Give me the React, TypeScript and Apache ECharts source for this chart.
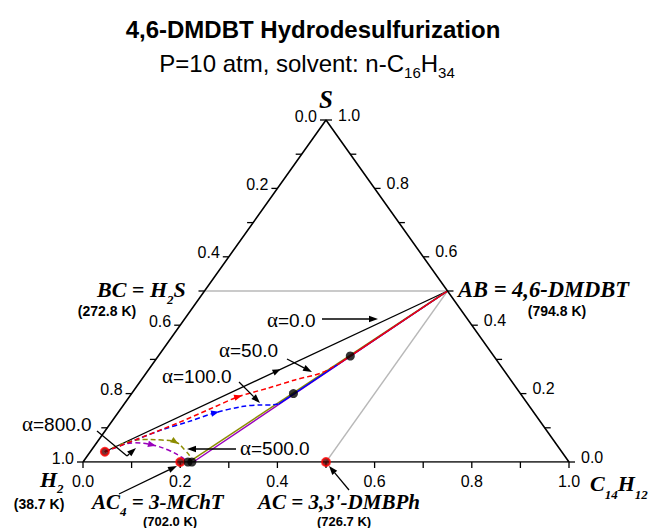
import { useEffect, useRef } from 'react';
import * as echarts from 'echarts';

// Ternary compositions as [x(C14H12), x(S)];  x(H2) = 1 - x(C14H12) - x(S)
const triangle = [[0, 0], [0, 1], [1, 0], [0, 0]];
const tieLineBC_AB = [[0, 0.5], [0.5, 0.5]];
const tieLineAB_AC = [[0.5, 0.5], [0.5, 0]];

const alpha0 = [[0.03, 0.03], [0.5, 0.5]];
const alpha50Dashed = [[0.03, 0.03], [0.09, 0.076], [0.139, 0.115], [0.186, 0.157], [0.224, 0.191], [0.273, 0.216], [0.316, 0.24], [0.361, 0.261], [0.384, 0.29]];
const alpha50Solid = [[0.384, 0.29], [0.5, 0.5]];
const alpha100Dashed = [[0.03, 0.03], [0.075, 0.064], [0.115, 0.094], [0.158, 0.118], [0.2, 0.144], [0.246, 0.162], [0.284, 0.167], [0.305, 0.167], [0.318, 0.17]];
const alpha100Solid = [[0.318, 0.17], [0.5, 0.5]];
const alpha500Dashed = [[0.03, 0.03], [0.044, 0.044], [0.064, 0.059], [0.094, 0.066], [0.13, 0.064], [0.16, 0.059], [0.192, 0.035], [0.214, 0.012], [0.219, 0.002]];
const alpha500Solid = [[0.219, 0.002], [0.5, 0.5]];
const alpha800Dashed = [[0.03, 0.03], [0.055, 0.05], [0.079, 0.056], [0.117, 0.05], [0.158, 0.035], [0.196, 0.014], [0.212, 0.002]];
const alpha800Solid = [[0.227, 0], [0.5, 0.5]];

const blackDots = [[0.216, 0], [0.224, 0], [0.333, 0.2], [0.395, 0.31]];
const redDots = [[0.03, 0.03], [0.2, 0], [0.5, 0]];

const arrowAt = [[0.266, 0.266], [0.224, 0.191], [0.2, 0.144], [0.16, 0.059], [0.117, 0.05]];
const arrowToward = [[0.3, 0.3], [0.273, 0.216], [0.246, 0.162], [0.176, 0.049], [0.138, 0.044]];
const arrowColors = ['#000000', '#ff0000', '#0000ff', '#8c8c00', '#9900bb'];

const axisTicks = [0, 0.1, 0.2, 0.3, 0.4, 0.5, 0.6, 0.7, 0.8, 0.9, 1];
const tickLabels = ['0.0', '0.2', '0.4', '0.6', '0.8', '1.0'];

const SANS = '"Liberation Sans", Arial, sans-serif';
const SERIF = '"Liberation Serif", "Times New Roman", serif';

const tern = (p: number[]) => [p[0] + p[1] / 2, p[1]];

function lineSeries(data: number[][], color: string, width: number, dashed: boolean, smooth: number | boolean = false, z = 2) {
  return {
    type: 'line',
    data: data.map(tern),
    showSymbol: false,
    symbol: 'none',
    smooth,
    silent: true,
    z,
    lineStyle: { color, width, type: dashed ? [5, 3] : 'solid' },
  };
}

function tickSeries(edge: 'bottom' | 'left' | 'right') {
  return {
    type: 'custom',
    coordinateSystem: 'cartesian2d',
    clip: false,
    silent: true,
    z: 5,
    data: axisTicks.map((v) => [v, 0]),
    renderItem: (params: any, api: any) => {
      const v = api.value(0);
      const comp = edge === 'bottom' ? [v, 0] : edge === 'left' ? [0, 1 - v] : [1 - v, v];
      const p = api.coord(tern(comp));
      const d = edge === 'bottom' ? [0, 6] : edge === 'left' ? [-6, 0] : [6, 0];
      const children: any[] = [
        { type: 'line', shape: { x1: p[0], y1: p[1], x2: p[0] + d[0], y2: p[1] + d[1] }, style: { stroke: '#000', lineWidth: 1.3 } },
      ];
      if (params.dataIndex % 2 === 0) {
        const text = tickLabels[params.dataIndex / 2];
        const pos = edge === 'bottom' ? [p[0], p[1] + 19] : edge === 'left' ? [p[0] - 9, p[1] - 4] : [p[0] + 12, p[1] - 5];
        const align = edge === 'bottom' ? 'center' : edge === 'left' ? 'right' : 'left';
        children.push({
          type: 'text',
          x: pos[0],
          y: pos[1],
          style: { text, fill: '#000', font: `16px ${SANS}`, align, textAlign: align, verticalAlign: 'middle', textVerticalAlign: 'middle' },
        });
      }
      return { type: 'group', children };
    },
  };
}

function arrowSeries() {
  return {
    type: 'custom',
    coordinateSystem: 'cartesian2d',
    clip: false,
    silent: true,
    z: 6,
    data: arrowAt.map((a, i) => [...tern(a), ...tern(arrowToward[i])]),
    renderItem: (params: any, api: any) => {
      const p = api.coord([api.value(0), api.value(1)]);
      const q = api.coord([api.value(2), api.value(3)]);
      const a = Math.atan2(q[1] - p[1], q[0] - p[0]);
      const L = 8, W = 3.2;
      const tip = [p[0] + (L / 2) * Math.cos(a), p[1] + (L / 2) * Math.sin(a)];
      const bx = p[0] - (L / 2) * Math.cos(a), by = p[1] - (L / 2) * Math.sin(a);
      const nx = -Math.sin(a) * W, ny = Math.cos(a) * W;
      return {
        type: 'polygon',
        shape: { points: [tip, [bx + nx, by + ny], [bx - nx, by - ny]] },
        style: { fill: arrowColors[params.dataIndex] },
      };
    },
  };
}

function leader(points: number[][], head = true, color = '#000') {
  const n = points.length;
  const [x1, y1] = points[n - 2];
  const [x2, y2] = points[n - 1];
  const a = Math.atan2(y2 - y1, x2 - x1);
  const L = 9, W = 3.2;
  const bx = x2 - L * Math.cos(a), by = y2 - L * Math.sin(a);
  const nx = -Math.sin(a) * W, ny = Math.cos(a) * W;
  const els: any[] = [
    { type: 'polyline', silent: true, z: 10, shape: { points: head ? [...points.slice(0, n - 1), [bx, by]] : points }, style: { stroke: color, lineWidth: 1.3, fill: null } },
  ];
  if (head) {
    els.push({ type: 'polygon', silent: true, z: 10, shape: { points: [[x2, y2], [bx + nx, by + ny], [bx - nx, by - ny]] }, style: { fill: color } });
  }
  return els;
}

function txt(x: number, y: number, text: string, rich: any, align = 'left', font?: string) {
  return {
    type: 'text',
    x,
    y,
    silent: true,
    z: 10,
    style: {
      text,
      rich,
      font,
      fill: '#000',
      align,
      textAlign: align,
      verticalAlign: 'middle',
      textVerticalAlign: 'middle',
    },
  };
}

let measureCtx: CanvasRenderingContext2D | null = null;
function measure(text: string, font: string) {
  if (!measureCtx) measureCtx = document.createElement('canvas').getContext('2d');
  measureCtx!.font = font;
  return measureCtx!.measureText(text).width;
}

// text made of normal and subscript pieces, each its own text element
function chem(x: number, y: number, parts: [string, boolean][], mainFont: string, subFont: string, drop: number, align: 'left' | 'center' = 'left') {
  const widths = parts.map(([t, sub]) => measure(t, sub ? subFont : mainFont));
  const total = widths.reduce((a, b) => a + b, 0);
  let cx = align === 'center' ? x - total / 2 : x;
  return parts.map(([t, sub], i) => {
    const el = txt(cx, sub ? y + drop : y, t, undefined, 'left', sub ? subFont : mainFont);
    cx += widths[i];
    return el;
  });
}

const alphaRich = {
  a: { fontFamily: SERIF, fontSize: 21, lineHeight: 24 },
  t: { fontFamily: SANS, fontSize: 19, lineHeight: 24 },
};
const LBL = `italic bold 22px ${SERIF}`;
const LBL_SUB = `italic bold 13px ${SERIF}`;
const LBL_LOW = `italic bold 21px ${SERIF}`;
const KFONT = `bold 14px ${SANS}`;
const KFONT_LOW = `bold 13px ${SANS}`;

export default function App() {
  const ref = useRef<HTMLDivElement>(null);
  useEffect(() => {
    if (!ref.current) return;
    const chart = echarts.init(ref.current, null, { renderer: 'svg' });
    const graphic: any[] = [
      txt(313, 29, '4,6-DMDBT Hydrodesulfurization', undefined, 'center', `bold 24px ${SANS}`),
      ...chem(307, 63, [['P=10 atm, solvent: n-C', false], ['16', true], ['H', false], ['34', true]], `24px ${SANS}`, `15px ${SANS}`, 9, 'center'),
      txt(326, 99, 'S', undefined, 'center', `italic bold 25px ${SERIF}`),
      ...chem(40, 479, [['H', false], ['2', true]], LBL, LBL_SUB, 9),
      txt(39, 504, '(38.7 K)', undefined, 'center', KFONT),
      ...chem(590, 483, [['C', false], ['14', true], ['H', false], ['12', true]], LBL, LBL_SUB, 11),
      ...chem(97, 289, [['BC = H', false], ['2', true], ['S', false]], LBL, LBL_SUB, 10),
      txt(107, 311, '(272.8 K)', undefined, 'center', KFONT),
      txt(458, 289, 'AB = 4,6-DMDBT', undefined, 'left', `italic bold 22.5px ${SERIF}`),
      txt(557, 311, '(794.8 K)', undefined, 'center', KFONT),
      ...chem(92, 502, [['AC', false], ['4', true], [' = 3-MChT', false]], LBL_LOW, LBL_SUB, 9),
      txt(170, 521, '(702.0 K)', undefined, 'center', KFONT_LOW),
      txt(258, 502, "AC = 3,3'-DMBPh", undefined, 'left', LBL_LOW),
      txt(344, 521, '(726.7 K)', undefined, 'center', KFONT_LOW),
      txt(267, 320, '{a|α}{t|=0.0}', alphaRich, 'left'),
      txt(219, 350, '{a|α}{t|=50.0}', alphaRich, 'left'),
      txt(162, 376, '{a|α}{t|=100.0}', alphaRich, 'left'),
      txt(22, 424, '{a|α}{t|=800.0}', alphaRich, 'left'),
      txt(240, 448, '{a|α}{t|=500.0}', alphaRich, 'left'),
      ...leader([[322, 319], [378, 319]]),
      ...leader([[287, 359], [312, 372]]),
      ...leader([[239, 382], [260, 403]]),
      ...leader([[97, 431], [127, 456]], false),
      ...leader([[127, 456], [136, 448]]),
      ...leader([[236, 449], [187, 449]]),
      ...leader([[119, 494], [177, 466]]),
      ...leader([[349, 490], [329, 466]]),
    ];
    chart.setOption({
      animation: false,
      backgroundColor: '#ffffff',
      grid: { left: 83, top: 120, width: 486, height: 342 },
      xAxis: { type: 'value', min: 0, max: 1, show: false },
      yAxis: { type: 'value', min: 0, max: 1, show: false },
      series: [
        lineSeries(tieLineBC_AB, '#b8b8b8', 1.3, false, false, 1),
        lineSeries(tieLineAB_AC, '#b8b8b8', 1.3, false, false, 1),
        lineSeries(triangle, '#000000', 1.6, false, false, 3),
        lineSeries(alpha0, '#000000', 1.3, false),
        lineSeries(alpha800Solid, '#9900bb', 1.5, false),
        lineSeries(alpha500Solid, '#8c8c00', 1.5, false),
        lineSeries(alpha100Solid, '#0000ff', 1.5, false),
        lineSeries(alpha50Solid, '#ff0000', 1.5, false),
        lineSeries(alpha800Dashed, '#9900bb', 1.5, true, 0.4),
        lineSeries(alpha500Dashed, '#8c8c00', 1.5, true, 0.4),
        lineSeries(alpha100Dashed, '#0000ff', 1.5, true, 0.3),
        lineSeries(alpha50Dashed, '#ff0000', 1.5, true, 0.3),
        {
          type: 'scatter',
          data: redDots.map(tern),
          symbol: 'circle',
          symbolSize: 8,
          clip: false,
          silent: true,
          z: 7,
          itemStyle: { color: '#550000', borderColor: '#ff0000', borderWidth: 2 },
        },
        {
          type: 'scatter',
          data: blackDots.map(tern),
          symbol: 'circle',
          symbolSize: 9,
          clip: false,
          silent: true,
          z: 8,
          itemStyle: { color: '#000000' },
        },
        arrowSeries(),
        tickSeries('bottom'),
        tickSeries('left'),
        tickSeries('right'),
      ],
      graphic,
    });
    return () => chart.dispose();
  }, []);
  return <div ref={ref} style={{ position: 'fixed', left: 0, top: 0, width: 656, height: 528, background: '#fff' }} />;
}
